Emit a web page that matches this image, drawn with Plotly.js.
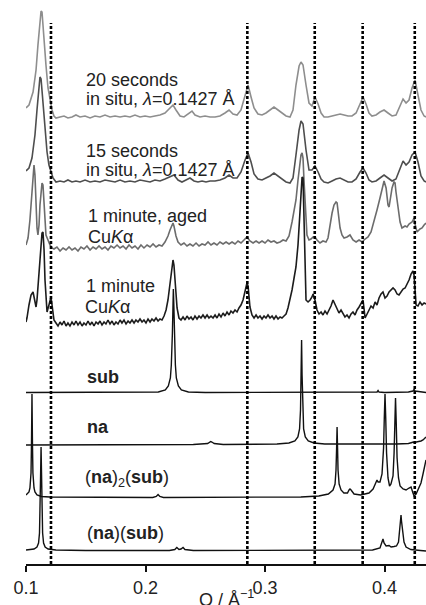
<!DOCTYPE html>
<html><head><meta charset="utf-8">
<script src="https://cdn.plot.ly/plotly-3.0.1.min.js"></script>
<style>html,body{margin:0;padding:0;background:#fff}#chart{width:426px;height:605px}</style>
</head><body><div id="chart"></div>
<script>
// ---- data (Q in 1/Å, intensity in arbitrary units relative to each pattern's baseline) ----
const q20s = [0.1000,0.1025,0.1059,0.1084,0.1100,0.1117,0.1126,0.1134,0.1151,0.1167,0.1184,0.1201,0.1218,0.1234,0.1251,0.1285,0.1318,0.1351,0.1385,0.1418,0.1452,0.1494,0.1536,0.1577,0.1619,0.1661,0.1703,0.1745,0.1787,0.1828,0.1870,0.1912,0.1954,0.1996,0.2038,0.2079,0.2121,0.2163,0.2205,0.2230,0.2255,0.2289,0.2322,0.2356,0.2389,0.2414,0.2456,0.2498,0.2540,0.2582,0.2623,0.2665,0.2699,0.2732,0.2766,0.2799,0.2833,0.2858,0.2883,0.2908,0.2941,0.2975,0.3008,0.3042,0.3075,0.3109,0.3142,0.3176,0.3209,0.3234,0.3259,0.3285,0.3301,0.3318,0.3343,0.3368,0.3393,0.3418,0.3444,0.3469,0.3494,0.3527,0.3561,0.3594,0.3628,0.3661,0.3695,0.3728,0.3762,0.3795,0.3820,0.3845,0.3870,0.3895,0.3929,0.3962,0.3996,0.4029,0.4063,0.4096,0.4130,0.4155,0.4180,0.4205,0.4230,0.4255,0.4280,0.4305,0.4331,0.4347];
const i20s = [9,12,25,47,72,97,106,105,82,52,29,17,7,1,-1,0,1,-1,0,2,0,1,-1,1,0,2,0,1,0,1,0,2,0,1,0,1,2,4,9,12,7,1,0,3,6,2,0,1,0,0,1,4,7,3,2,7,20,32,20,9,3,2,4,7,10,7,4,1,0,7,32,51,55,52,32,14,11,20,13,4,0,0,1,2,3,2,1,1,4,13,20,13,4,1,2,5,7,4,1,2,12,18,14,17,29,37,22,7,1,0];

const q15s = [0.1000,0.1025,0.1050,0.1075,0.1092,0.1109,0.1117,0.1126,0.1142,0.1159,0.1176,0.1192,0.1209,0.1226,0.1251,0.1285,0.1318,0.1351,0.1385,0.1418,0.1452,0.1494,0.1536,0.1577,0.1619,0.1661,0.1703,0.1745,0.1787,0.1828,0.1870,0.1912,0.1954,0.1996,0.2038,0.2079,0.2121,0.2163,0.2205,0.2238,0.2272,0.2305,0.2339,0.2372,0.2406,0.2439,0.2473,0.2506,0.2540,0.2582,0.2623,0.2665,0.2699,0.2732,0.2766,0.2799,0.2833,0.2858,0.2883,0.2908,0.2941,0.2975,0.3008,0.3042,0.3075,0.3109,0.3142,0.3176,0.3209,0.3234,0.3259,0.3285,0.3301,0.3318,0.3343,0.3368,0.3393,0.3418,0.3444,0.3469,0.3494,0.3527,0.3561,0.3594,0.3628,0.3661,0.3695,0.3728,0.3762,0.3795,0.3820,0.3845,0.3870,0.3895,0.3929,0.3962,0.3996,0.4029,0.4063,0.4096,0.4130,0.4155,0.4180,0.4205,0.4230,0.4255,0.4280,0.4305,0.4331,0.4347];
const i15s = [11,14,24,47,72,97,105,103,82,52,30,17,10,4,0,1,0,2,0,1,0,2,0,1,0,2,1,0,2,0,1,0,2,1,0,2,1,3,5,7,2,0,2,4,1,0,1,0,1,1,2,4,7,4,4,10,22,29,20,8,3,2,4,6,9,6,3,0,-1,4,27,52,61,58,32,12,12,16,10,3,0,-1,1,3,4,2,0,0,3,10,14,9,2,0,1,4,7,4,1,3,14,21,17,20,27,30,20,6,1,0];

const qAged = [0.1000,0.1017,0.1033,0.1050,0.1059,0.1067,0.1075,0.1084,0.1092,0.1100,0.1109,0.1117,0.1126,0.1134,0.1142,0.1151,0.1159,0.1167,0.1184,0.1201,0.1218,0.1234,0.1259,0.1285,0.1310,0.1335,0.1360,0.1385,0.1410,0.1435,0.1460,0.1485,0.1510,0.1536,0.1561,0.1586,0.1611,0.1636,0.1661,0.1686,0.1711,0.1736,0.1762,0.1787,0.1812,0.1837,0.1862,0.1887,0.1912,0.1937,0.1962,0.1987,0.2013,0.2038,0.2063,0.2088,0.2113,0.2138,0.2163,0.2188,0.2205,0.2222,0.2230,0.2238,0.2255,0.2272,0.2297,0.2322,0.2347,0.2372,0.2397,0.2423,0.2448,0.2473,0.2498,0.2523,0.2548,0.2573,0.2598,0.2623,0.2649,0.2674,0.2699,0.2724,0.2749,0.2774,0.2799,0.2824,0.2849,0.2874,0.2900,0.2925,0.2950,0.2975,0.3000,0.3025,0.3050,0.3075,0.3100,0.3126,0.3151,0.3176,0.3201,0.3226,0.3243,0.3259,0.3276,0.3293,0.3301,0.3310,0.3318,0.3326,0.3335,0.3343,0.3351,0.3368,0.3385,0.3402,0.3418,0.3435,0.3460,0.3485,0.3510,0.3527,0.3544,0.3561,0.3577,0.3594,0.3603,0.3611,0.3628,0.3644,0.3661,0.3686,0.3711,0.3736,0.3762,0.3787,0.3812,0.3837,0.3862,0.3887,0.3912,0.3937,0.3962,0.3979,0.3996,0.4013,0.4029,0.4038,0.4046,0.4063,0.4079,0.4088,0.4096,0.4113,0.4130,0.4146,0.4172,0.4188,0.4205,0.4230,0.4247,0.4255,0.4272,0.4297,0.4314,0.4331,0.4347];
const iAged = [3,10,28,58,76,83,73,43,20,13,23,43,58,65,63,48,26,13,8,3,0,-1,1,-3,0,-2,1,-2,0,-3,1,-1,2,-2,1,-1,2,-1,1,-2,2,0,3,0,2,-1,3,0,2,-1,3,0,3,1,4,1,3,2,6,12,18,23,25,22,12,6,3,5,2,4,2,5,2,4,3,6,3,5,3,6,4,6,4,6,4,7,5,8,11,7,5,7,5,7,5,8,6,7,5,6,8,7,12,26,36,48,68,88,93,95,90,68,43,26,13,8,9,11,11,8,5,7,6,10,23,35,43,46,45,36,20,13,10,11,13,8,6,8,6,9,11,16,26,38,50,60,67,60,43,41,48,60,66,65,56,38,26,20,22,21,24,26,30,24,16,19,20,23,25];

const q1min = [0.1000,0.1008,0.1025,0.1042,0.1059,0.1067,0.1084,0.1092,0.1100,0.1117,0.1126,0.1134,0.1142,0.1151,0.1159,0.1167,0.1176,0.1192,0.1209,0.1218,0.1234,0.1251,0.1268,0.1285,0.1301,0.1318,0.1335,0.1351,0.1368,0.1385,0.1402,0.1418,0.1435,0.1452,0.1469,0.1485,0.1502,0.1519,0.1536,0.1552,0.1569,0.1586,0.1603,0.1619,0.1636,0.1653,0.1669,0.1686,0.1703,0.1720,0.1736,0.1753,0.1770,0.1787,0.1803,0.1820,0.1837,0.1854,0.1870,0.1887,0.1904,0.1920,0.1937,0.1954,0.1971,0.1987,0.2004,0.2021,0.2038,0.2054,0.2071,0.2088,0.2105,0.2121,0.2138,0.2155,0.2172,0.2188,0.2205,0.2213,0.2222,0.2230,0.2238,0.2247,0.2255,0.2264,0.2280,0.2297,0.2314,0.2331,0.2347,0.2364,0.2381,0.2397,0.2414,0.2431,0.2448,0.2464,0.2481,0.2498,0.2515,0.2531,0.2548,0.2565,0.2582,0.2598,0.2615,0.2632,0.2649,0.2665,0.2682,0.2699,0.2715,0.2732,0.2749,0.2766,0.2782,0.2799,0.2816,0.2833,0.2849,0.2858,0.2874,0.2891,0.2908,0.2925,0.2941,0.2958,0.2975,0.2992,0.3008,0.3025,0.3042,0.3059,0.3075,0.3092,0.3109,0.3126,0.3142,0.3159,0.3176,0.3192,0.3209,0.3226,0.3243,0.3259,0.3276,0.3285,0.3293,0.3301,0.3310,0.3318,0.3326,0.3335,0.3343,0.3360,0.3377,0.3393,0.3402,0.3418,0.3435,0.3452,0.3469,0.3485,0.3502,0.3519,0.3536,0.3552,0.3569,0.3586,0.3603,0.3619,0.3636,0.3653,0.3669,0.3686,0.3703,0.3720,0.3736,0.3753,0.3770,0.3787,0.3803,0.3820,0.3828,0.3837,0.3854,0.3870,0.3887,0.3904,0.3921,0.3937,0.3954,0.3971,0.3987,0.4004,0.4021,0.4038,0.4054,0.4071,0.4088,0.4105,0.4121,0.4138,0.4155,0.4172,0.4188,0.4205,0.4222,0.4238,0.4247,0.4255,0.4264,0.4280,0.4297,0.4314,0.4331,0.4347];
const i1min = [1,5,18,28,31,26,16,23,38,68,83,90,91,73,43,23,11,18,26,18,3,0,-3,1,-2,2,-3,0,-3,1,-2,2,-2,1,-3,0,-2,2,-2,1,-3,1,-1,2,-2,1,-1,3,-1,2,-2,1,-1,3,0,3,-1,2,0,3,0,3,1,4,1,3,0,4,1,4,2,5,2,4,3,7,13,23,41,51,59,63,58,45,28,15,5,3,6,3,7,4,6,3,7,4,7,5,8,5,8,5,7,5,8,5,9,6,10,7,11,8,12,10,13,11,15,18,23,31,40,37,16,8,5,8,5,7,4,7,5,8,5,7,4,7,4,6,5,7,9,15,23,33,45,56,78,98,118,138,146,145,93,38,23,21,23,26,29,23,13,9,11,8,12,9,13,17,23,18,13,10,13,9,6,8,5,9,11,8,13,16,20,23,15,5,9,13,17,15,21,18,25,29,31,25,27,31,33,35,33,29,28,31,34,35,39,43,49,52,48,33,18,17,21,18,20,19];

const qSub = [0.1000,0.2000,0.2107,0.2166,0.2191,0.2208,0.2216,0.2225,0.2229,0.2233,0.2237,0.2241,0.2250,0.2258,0.2275,0.2300,0.2359,0.2500,0.3900,0.3938,0.3946,0.3954,0.4000,0.4200,0.4238,0.4247,0.4255,0.4300,0.4347];
const iSub = [0.5,0.5,1,3,7,15,28,60,88,104,88,60,28,15,7,3,1,0.5,0.5,1,2.5,1,0.5,1,2,3.5,2,1,0.5];

const qNa = [0.1000,0.2400,0.2520,0.2538,0.2546,0.2555,0.2575,0.2650,0.3100,0.3200,0.3250,0.3275,0.3289,0.3297,0.3302,0.3306,0.3310,0.3315,0.3323,0.3337,0.3362,0.3410,0.3500,0.4100,0.4200,0.4230,0.4238,0.4247,0.4280,0.4305,0.4322,0.4335,0.4347];
const iNa = [0,0.5,1.5,3,3.5,3,1.5,0.5,1,2,4,8,16,35,70,105,70,35,16,8,4,2,1,1,1.5,2.5,3,2.5,3,4,5,6.5,8];

const qNa2Sub = [0.1000,0.1025,0.1033,0.1042,0.1046,0.1050,0.1054,0.1058,0.1067,0.1075,0.1092,0.1130,0.1200,0.1600,0.2060,0.2090,0.2105,0.2120,0.2150,0.3300,0.3450,0.3530,0.3569,0.3586,0.3594,0.3599,0.3603,0.3607,0.3611,0.3620,0.3636,0.3660,0.3690,0.3703,0.3711,0.3720,0.3745,0.3800,0.3870,0.3904,0.3929,0.3937,0.3946,0.3962,0.3979,0.3992,0.3998,0.4004,0.4010,0.4017,0.4029,0.4042,0.4054,0.4071,0.4080,0.4086,0.4092,0.4098,0.4105,0.4117,0.4130,0.4155,0.4180,0.4205,0.4222,0.4238,0.4247,0.4264,0.4280,0.4305,0.4322,0.4335,0.4347];
const iNa2Sub = [3,6,10,25,55,104,55,25,10,6,3,1.5,1,0.5,0.5,1.5,3.5,1.5,0.5,1,2,4,8,14,28,50,71,50,28,14,8,5,5,8,9,8,4,3,5,9,17,18,16,16,24,50,80,104,80,45,20,12,14,22,45,75,100,75,40,20,12,9,8,10,11,5,2,4,8,15,24,31,38];

const qNaSub = [0.1000,0.1067,0.1092,0.1105,0.1113,0.1118,0.1122,0.1126,0.1130,0.1134,0.1139,0.1147,0.1160,0.1185,0.1250,0.1500,0.2200,0.2245,0.2262,0.2280,0.2297,0.2314,0.2330,0.2400,0.3900,0.3962,0.3979,0.3987,0.3996,0.4013,0.4038,0.4055,0.4079,0.4100,0.4117,0.4126,0.4134,0.4138,0.4142,0.4151,0.4163,0.4180,0.4220,0.4300,0.4347];
const iNaSub = [1,2,4,8,18,40,75,104,75,40,18,8,4,2,1,0.5,0.5,1.5,3.5,1.5,2,3.5,1.5,0.5,1,3,8,12,8,5,5.5,4,4.5,5,9,18,30,36,30,18,9,4,1.5,0.5,0];

// stacking offsets of each pattern (top to bottom)
const seriesOffsets = [447, 382, 316, 241, 171, 119, 66, 13];
const seriesColors = ['#8e8e8e', '#4e4e4e', '#6c6c6c', '#1c1c1c', '#111111', '#111111', '#111111', '#111111'];

// reference Q positions marked by dashed lines
const markerQ = [0.1209, 0.2852, 0.3416, 0.3817, 0.4253];

const tickVals = [0.1, 0.2, 0.3, 0.4];
const tickText = ['0.1', '0.2', '0.3', '0.4'];

// ---- build figure ----
const seriesQ = [q20s, q15s, qAged, q1min, qSub, qNa, qNa2Sub, qNaSub];
const seriesI = [i20s, i15s, iAged, i1min, iSub, iNa, iNa2Sub, iNaSub];
const widths = [1.6, 1.6, 1.6, 1.6, 1.4, 1.4, 1.4, 1.4];

const traces = seriesQ.map((q, k) => ({
  type: 'scatter', mode: 'lines', x: q,
  y: seriesI[k].map(v => v + seriesOffsets[k]),
  line: {color: seriesColors[k], width: widths[k]},
  hoverinfo: 'skip', cliponaxis: true
}));

const FONT = 'Liberation Sans, Arial, Helvetica, sans-serif';
const shapes = markerQ.map(q => ({
  type: 'line', xref: 'x', yref: 'y', x0: q, x1: q, y0: 0, y1: 541,
  line: {color: '#000', width: 2.6, dash: '3px,2px'}, layer: 'above'
}));

function lab(text, x, y) {
  return {text: text, x: x, y: y, xref: 'x', yref: 'y', xanchor: 'left', yanchor: 'middle',
          showarrow: false, font: {family: FONT, size: 18, color: '#222'}};
}
const annotations = [
  lab('20 seconds', 0.1486, 484),
  lab('in situ, <i>λ</i>=0.1427 Å', 0.1486, 465),
  lab('15 seconds', 0.1486, 413),
  lab('in situ, <i>λ</i>=0.1427 Å', 0.1486, 394),
  lab('1 minute, aged', 0.1502, 348),
  lab('Cu<i>K</i>α', 0.1502, 327),
  lab('1 minute', 0.1486, 278),
  lab('Cu<i>K</i>α', 0.1477, 257),
  lab('<b>sub</b>', 0.1494, 187),
  lab('<b>na</b>', 0.1494, 137),
  lab('(<b>na</b>)<sub>2</sub>(<b>sub</b>)', 0.1477, 86),
  lab('(<b>na</b>)(<b>sub</b>)', 0.1494, 31),
  {text: 'Q / Å<sup>−1</sup>', x: 0.5, y: 0, xref: 'paper', yref: 'paper', xanchor: 'center', yanchor: 'top',
   yshift: -21, showarrow: false, font: {family: FONT, size: 18, color: '#222'}}
];

const layout = {
  width: 426, height: 605,
  margin: {l: 26, r: 0, t: 0, b: 41, pad: 0},
  paper_bgcolor: '#fff', plot_bgcolor: '#fff',
  showlegend: false,
  xaxis: {range: [0.1, 0.4347], showline: true, linecolor: '#111', linewidth: 2,
          ticks: 'outside', ticklen: 6, tickwidth: 2, tickcolor: '#111',
          tickmode: 'array', tickvals: tickVals, ticktext: tickText,
          tickfont: {family: FONT, size: 18, color: '#222'},
          showgrid: false, zeroline: false, fixedrange: true},
  yaxis: {range: [0, 564], visible: false, showgrid: false, zeroline: false, fixedrange: true},
  shapes: shapes, annotations: annotations
};

Plotly.newPlot('chart', traces, layout, {displayModeBar: false, staticPlot: true});
</script></body></html>
